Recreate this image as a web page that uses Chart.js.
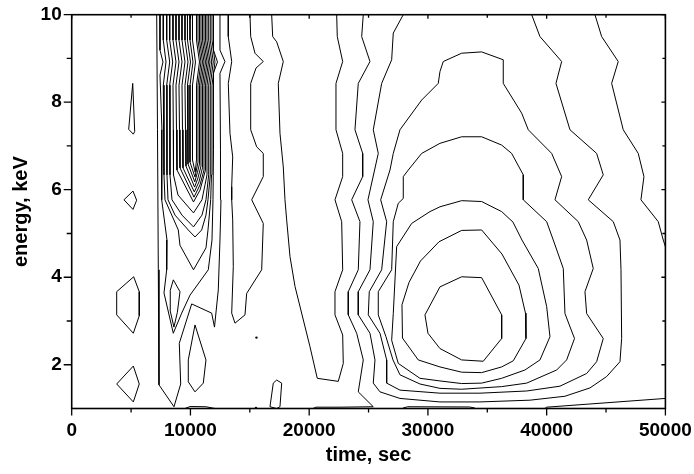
<!DOCTYPE html>
<html>
<head>
<meta charset="utf-8">
<style>
  html, body { margin: 0; padding: 0; background: #fff; }
  #wrap { width: 694px; height: 474px; }
</style>
<script src="https://cdn.jsdelivr.net/npm/chart.js@4.4.0/dist/chart.umd.min.js"></script>
</head>
<body>
<div id="wrap"><canvas id="contourChart"></canvas></div>
<script>
// Axis ticks
const timeTicks = [0, 10000, 20000, 30000, 40000, 50000];
const timeMinor = [5000, 15000, 25000, 35000, 45000];
const energyTicks = [2, 4, 6, 8, 10];
const energyMinor = [3, 5, 7, 9];

// Contour lines: [time (sec), energy (keV)]
// small islands near 5000 s
const spikeIsland = [[5140,8.43],[5305,7.33],[5190,7.27],[4800,7.38],[5140,8.43]];
const diamondIsland = [[4400,5.77],[5160,5.97],[5470,5.76],[5160,5.55],[4400,5.77]];
const hexIsland = [[5220,4.01],[5690,3.67],[5690,3.12],[5190,2.72],[3790,3.14],[3790,3.67],[5220,4.01]];
const lowIsland = [[5190,1.97],[5690,1.56],[5190,1.15],[3790,1.56],[5190,1.97]];

// the dense band around 10000 s
const ridgeA = [[7158,10],[7225,7.37],[7293,4.17],[7351,1.54],[8615,1.04],[9179,1.56],[9061,2.49],[10105,3.39],[11789,3.18],[12025,2.86],[12345,3.71],[12488,4.85],[12573,5.77],[12530,6.91],[12488,8.66],[12909,8.93],[12488,9.19],[12488,10]];
const ridgeB = [[7436,10],[7436,9.19],[7688,8.92],[7436,8.62],[7600,7.37],[7579,5.77],[8025,4.85],[8000,4.17],[7772,3.64],[8556,2.72],[9263,3.18],[9962,3.59],[11503,4.17],[11815,4.85],[11899,5.77],[11941,6.91],[11941,8.67],[12278,8.92],[11941,9.19],[11941,10]];
const nest1 = [[7714,10],[7714,9.42],[7941,8.92],[7714,8.39],[7772,7.37],[7772,6.34],[7857,5.77],[8977,5.08],[9120,4.73],[10257,4.17],[11309,4.67],[11478,5.08],[11705,5.77],[11773,6.34],[11815,7.37],[11815,8.39],[12067,8.92],[11815,9.42],[11815,10]];
const nest2 = [[8000,10],[8000,9.42],[8253,8.92],[8000,8.39],[8025,7.37],[8025,6.34],[8109,5.77],[8699,5.42],[9819,5.08],[10383,4.92],[10947,5.08],[11309,5.42],[11478,5.77],[11672,6.34],[11672,7.37],[11672,8.39],[11924,8.92],[11672,9.42],[11672,10]];
const nest3 = [[8253,10],[8253,9.42],[8505,8.92],[8253,8.39],[8278,7.37],[8278,6.34],[8446,5.77],[9288,5.42],[10257,5.15],[10972,5.42],[11309,5.77],[11536,6.34],[11536,7.37],[11536,8.39],[11789,8.92],[11536,9.42],[11536,10]];
const nest4 = [[8530,10],[8530,9.42],[8783,8.92],[8530,8.39],[8556,7.37],[8573,6.34],[8951,5.88],[10257,5.47],[10972,5.77],[11225,6.11],[11394,6.34],[11394,7.37],[11394,8.39],[11646,8.92],[11394,9.42],[11394,10]];
const nest5 = [[8783,10],[8783,9.42],[9036,8.92],[8783,8.39],[8825,7.37],[8867,6.45],[10257,5.72],[10804,5.99],[11267,6.45],[11267,7.37],[11267,8.39],[11520,8.92],[11267,9.42],[11267,10]];
const nest6 = [[9036,10],[9036,9.42],[9288,8.92],[9036,8.39],[9078,7.37],[9120,6.50],[10299,5.83],[10804,6.11],[11141,6.45],[11141,7.37],[11141,8.39],[11394,8.92],[11141,9.42],[11141,10]];
const nest7 = [[9288,10],[9288,9.42],[9541,8.92],[9288,8.39],[9331,7.37],[9373,6.50],[10324,5.95],[10720,6.18],[11015,6.50],[11015,7.37],[11015,8.39],[11267,8.92],[11015,9.42],[11015,10]];
const nest8 = [[9541,10],[9541,9.42],[9794,8.92],[9541,8.39],[9583,7.37],[9625,6.54],[10349,6.06],[10636,6.27],[10888,6.54],[10888,7.37],[10888,8.39],[11141,8.92],[10888,9.42],[10888,10]];
const nest9 = [[9751,10],[9751,9.42],[10004,8.92],[9751,8.39],[9794,7.37],[9794,6.59],[10366,6.18],[10594,6.40],[10762,6.59],[10762,7.37],[10762,8.39],[11015,8.92],[10762,9.42],[10762,10]];
const nest10 = [[9962,10],[9962,9.42],[10215,8.92],[9962,8.39],[9962,7.37],[9962,6.63],[10383,6.29],[10636,6.63],[10636,7.37],[10636,8.39],[10888,8.92],[10636,9.42],[10636,10]];
const nest11 = [[10173,10],[10173,9.42],[10425,8.92],[10173,8.39],[10173,7.37],[10173,6.68],[10400,6.40],[10509,6.68],[10509,7.37],[10509,8.39],[10762,8.92],[10509,9.42],[10509,10]];
const teardrop = [[8560,3.94],[9120,3.67],[8900,3.20],[8610,2.86],[8280,3.25],[8300,3.70],[8560,3.94]];
const ovalD = [[10383,2.91],[11309,2.11],[11082,1.58],[10383,1.38],[9819,1.61],[9819,2.11],[10383,2.91]];
const sliverLow1 = [[9540,1.0],[9970,1.045],[11300,1.04],[12070,1.0]];

// middle band 13000-25000 s
const ridgeE = [[13187,10],[13187,9.50],[13474,8.93],[13187,8.43],[13330,7.29],[13558,6.75],[13474,6.07],[13474,5.77],[13558,5.31],[13608,4.24],[13474,3.18],[13752,2.95],[14594,3.14],[14737,3.63],[16000,4.17],[16134,5.23],[15158,5.77],[16134,6.30],[16134,6.83],[15579,6.98],[15074,7.37],[15074,8.43],[15520,8.78],[16134,8.93],[15436,9.12],[15074,9.50],[15015,10]];
const smallK = [[16699,1.04],[16977,1.58],[17263,1.65],[17684,1.58],[17541,1.04],[17263,1.0],[16699,1.04]];
const ridgeF = [[16842,10],[16926,9.50],[17263,9.38],[17819,8.93],[17398,8.43],[17541,7.29],[17819,6.52],[17962,5.77],[18104,5.31],[18386,4.47],[18807,3.79],[20070,2.41],[20682,1.69],[22450,1.62],[22871,2.03],[22821,2.68],[22173,3.14],[22173,3.67],[22821,4.17],[22737,5.27],[22173,5.77],[22821,6.30],[22821,6.83],[22257,7.37],[22257,8.43],[22821,8.93],[22366,9.50],[22316,10]];
const ridgeG = [[24556,10],[24421,9.50],[25120,8.93],[24135,8.43],[23856,7.37],[24505,6.83],[24505,6.30],[23579,5.77],[24277,5.27],[24135,4.17],[23293,3.67],[23293,3.14],[24000,2.72],[24556,2.11],[24135,1.38],[25398,1.04],[22594,1.03],[20572,1.03],[20320,1.0]];
const spots = [[15560,2.62],[15520,1.01]];

// the broad hump around 33000 s
const ridgeH = [[27924,10],[27082,9.58],[26947,8.97],[26105,8.43],[25398,7.37],[25819,6.83],[24951,5.77],[25398,5.27],[25120,4.17],[24135,3.67],[24135,3.14],[25120,2.72],[25541,2.11],[25398,1.58],[25962,1.38],[27646,1.23],[31014,1.15],[34383,1.15],[38594,1.19],[41541,1.28],[43646,1.47],[45052,1.73],[46174,2.07],[46316,2.60],[46260,4.17],[46174,4.85],[45610,5.27],[43503,5.77],[44766,6.34],[44210,6.83],[41962,7.37],[40783,8.43],[41263,8.93],[39436,9.50],[38737,10]];
const loopQ1 = [[31014,8.70],[30871,8.43],[29474,8.05],[27646,7.37],[27082,6.83],[26804,6.45],[26021,5.77],[26526,5.27],[26105,4.17],[25061,3.67],[24977,3.14],[25962,2.72],[26526,2.11],[26526,1.58],[27646,1.42],[31014,1.35],[34383,1.35],[38316,1.40],[41120,1.51],[43368,1.80],[44210,2.07],[44766,2.60],[43368,3.17],[43225,3.67],[43924,4.20],[43368,4.85],[42661,5.27],[40699,5.77],[41263,6.30],[40421,6.83],[38452,7.37],[37895,7.75],[36345,8.43],[36345,8.97],[34526,9.15],[32842,9.12],[31293,8.93],[31014,8.70]];
const loopQ2 = [[31014,7.06],[32842,7.21],[34526,7.21],[36210,7.02],[37052,6.83],[38030,6.34],[38030,5.77],[40000,5.27],[40557,4.85],[41399,4.20],[41541,3.17],[42345,2.60],[41684,2.11],[40842,1.88],[38316,1.58],[36210,1.50],[32842,1.44],[31014,1.46],[29330,1.56],[27646,1.77],[27057,2.11],[26468,2.64],[25819,3.14],[25819,3.67],[26947,4.17],[27082,5.27],[27503,5.69],[27924,5.80],[27924,6.30],[28345,6.45],[29474,6.83],[31014,7.06]];
const loopO1 = [[32842,5.75],[34526,5.73],[36210,5.50],[37162,5.26],[37920,4.85],[39293,4.20],[40000,3.33],[40278,2.64],[39436,2.11],[38173,1.88],[36210,1.69],[34526,1.58],[32842,1.57],[31014,1.63],[29330,1.69],[27503,2.03],[26947,2.56],[27082,3.17],[27368,4.70],[28631,5.23],[30172,5.50],[31014,5.61],[32842,5.75]];
const loopO2 = [[32842,5.07],[34526,5.08],[36236,4.53],[37668,3.82],[38215,3.18],[38257,2.60],[37187,2.09],[36210,1.95],[34526,1.82],[32842,1.83],[31014,1.95],[29187,2.11],[27857,2.61],[27815,3.37],[28404,3.88],[29372,4.37],[30931,4.81],[32842,5.07]];
const loopO3 = [[32842,4.01],[34526,3.99],[36210,3.14],[36210,2.60],[34661,2.08],[32842,2.11],[31014,2.37],[30004,2.72],[29751,3.14],[31014,3.78],[32842,4.01]];
const sliverLow2 = [[27900,1.01],[28300,1.04],[33500,1.035],[33960,1.01]];
const ridgeP2 = [[44067,10],[44631,9.50],[46029,8.93],[45473,8.43],[46450,7.37],[47713,6.83],[48193,6.30],[47941,5.77],[49398,5.27],[49819,4.85],[50000,4.70]];
const ridgeJ = [[39830,1.0],[40000,1.03],[45000,1.13],[50000,1.23]];

const contourLines = [
  spikeIsland, diamondIsland, hexIsland, lowIsland,
  ridgeA, ridgeB, nest1, nest2, nest3, nest4, nest5, nest6, nest7, nest8, nest9, nest10, nest11,
  teardrop, ovalD, sliverLow1,
  ridgeE, smallK, ridgeF, ridgeG,
  ridgeH, loopQ1, loopQ2, loopO1, loopO2, loopO3, sliverLow2, ridgeP2, ridgeJ
];

const datasets = contourLines.map(line => ({
  data: line.map(p => ({ x: p[0], y: p[1] })),
  showLine: true,
  borderColor: '#000',
  borderWidth: 1,
  pointRadius: 0,
  tension: 0,
  fill: false
}));
datasets.push({
  data: spots.map(p => ({ x: p[0], y: p[1] })),
  showLine: false,
  pointRadius: 1.2,
  pointBackgroundColor: '#000',
  pointBorderWidth: 0
});

const labelFont = { family: "'Liberation Sans', Arial, sans-serif", weight: 'bold', size: 19 };
const titleFont = { family: "'Liberation Sans', Arial, sans-serif", weight: 'bold', size: 20 };

// box frame, outward ticks on bottom/left, inward ticks on top/right
const frameTicks = {
  id: 'frameTicks',
  afterDraw(chart) {
    const { ctx, chartArea: a, scales: { x, y } } = chart;
    ctx.save();
    ctx.strokeStyle = '#000';
    ctx.lineWidth = 1.6;
    ctx.strokeRect(a.left, a.top, a.right - a.left, a.bottom - a.top);
    ctx.lineWidth = 1.3;
    ctx.beginPath();
    timeTicks.forEach(v => {
      const px = x.getPixelForValue(v);
      ctx.moveTo(px, a.bottom); ctx.lineTo(px, a.bottom + 7);
      ctx.moveTo(px, a.top); ctx.lineTo(px, a.top + 4);
    });
    timeMinor.forEach(v => {
      const px = x.getPixelForValue(v);
      ctx.moveTo(px, a.bottom); ctx.lineTo(px, a.bottom + 4);
      ctx.moveTo(px, a.top); ctx.lineTo(px, a.top + 3);
    });
    energyTicks.forEach(v => {
      const py = y.getPixelForValue(v);
      ctx.moveTo(a.left, py); ctx.lineTo(a.left - 8, py);
      ctx.moveTo(a.right, py); ctx.lineTo(a.right - 4, py);
    });
    energyMinor.forEach(v => {
      const py = y.getPixelForValue(v);
      ctx.moveTo(a.left, py); ctx.lineTo(a.left - 5, py);
      ctx.moveTo(a.right, py); ctx.lineTo(a.right - 3, py);
    });
    ctx.stroke();
    ctx.restore();
  }
};

new Chart(document.getElementById('contourChart'), {
  type: 'scatter',
  data: { datasets },
  options: {
    responsive: true,
    maintainAspectRatio: false,
    animation: false,
    layout: { padding: { top: 14.7, right: 28.6, bottom: 0, left: 0 } },
    plugins: { legend: { display: false }, tooltip: { enabled: false } },
    scales: {
      x: {
        type: 'linear',
        min: 0,
        max: 50000,
        afterBuildTicks: s => { s.ticks = timeTicks.map(v => ({ value: v })); },
        afterFit: s => { s.height = 65.5; s.paddingLeft = 0; s.paddingRight = 0; },
        grid: { display: false, drawTicks: false },
        border: { display: false },
        ticks: { font: labelFont, color: '#000', padding: 11, maxRotation: 0, autoSkip: false, callback: v => String(v) },
        title: { display: true, text: 'time, sec', font: titleFont, color: '#000', padding: { top: 0, bottom: 7 } }
      },
      y: {
        type: 'linear',
        min: 1,
        max: 10,
        afterBuildTicks: s => { s.ticks = energyTicks.map(v => ({ value: v })); },
        afterFit: s => { s.width = 71.7; s.paddingTop = 0; s.paddingBottom = 0; },
        grid: { display: false, drawTicks: false },
        border: { display: false },
        ticks: { font: labelFont, color: '#000', padding: 10, callback: v => String(v) },
        title: { display: true, text: 'energy, keV', font: titleFont, color: '#000', padding: { top: 9, bottom: 0 } }
      }
    }
  },
  plugins: [frameTicks]
});
</script>
</body>
</html>
